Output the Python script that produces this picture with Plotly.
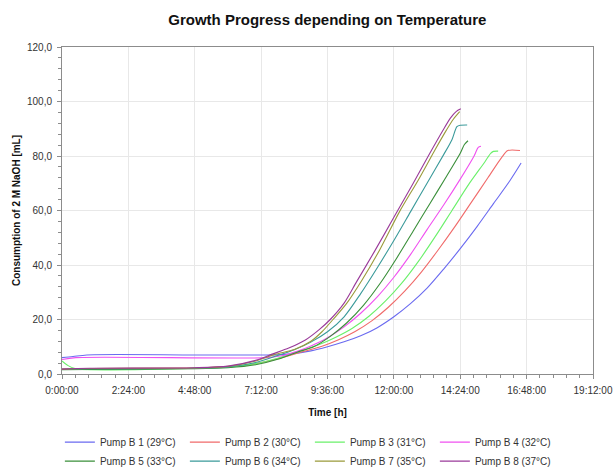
import plotly.graph_objects as go

# ---------------- data ----------------
x_tick_vals = [0, 2.4, 4.8, 7.2, 9.6, 12.0, 14.4, 16.8, 19.2]
x_tick_text = ["0:00:00", "2:24:00", "4:48:00", "7:12:00", "9:36:00",
               "12:00:00", "14:24:00", "16:48:00", "19:12:00"]
y_tick_vals = [0, 20, 40, 60, 80, 100, 120]
y_tick_text = ["0,0", "20,0", "40,0", "60,0", "80,0", "100,0", "120,0"]

series_names = ["Pump B 1 (29°C)", "Pump B 2 (30°C)", "Pump B 3 (31°C)", "Pump B 4 (32°C)",
                "Pump B 5 (33°C)", "Pump B 6 (34°C)", "Pump B 7 (35°C)", "Pump B 8 (37°C)"]
series_colors = ["#6a6af0", "#f06a6a", "#6af06a", "#f050f0",
                 "#3a8f3a", "#3a9a9a", "#9a9a3a", "#9a3a9a"]

# time [h] and consumption [mL] per pump
t_b1 = [0, 0.4, 0.9, 4.8, 7.5, 8.3, 9.0, 9.6, 10.2, 10.8, 11.4, 12.0, 12.6, 13.2, 13.8, 14.4, 15.0, 15.6, 16.2, 16.6]
v_b1 = [6.0, 6.4, 7.0, 7.0, 7.0, 7.4, 8.5, 10.0, 11.8, 14.0, 17.0, 21.0, 25.8, 31.5, 38.5, 46.0, 54.0, 62.5, 71.0, 77.4]

t_b2 = [0, 1, 4.8, 6.0, 7.0, 7.8, 8.6, 9.4, 10.0, 10.6, 11.2, 11.8, 12.4, 13.0, 13.6, 14.2, 14.8, 15.4, 15.9, 16.12, 16.56]
v_b2 = [1.8, 2.0, 2.2, 2.6, 3.8, 5.6, 7.9, 10.2, 12.6, 15.6, 19.5, 24.5, 30.5, 37.5, 45.5, 54.0, 63.0, 72.0, 79.5, 82.0, 82.0]

t_b3 = [0, 0.2, 0.5, 4.8, 6.0, 7.0, 7.8, 8.6, 9.3, 9.9, 10.5, 11.1, 11.7, 12.3, 12.9, 13.5, 14.1, 14.7, 15.3, 15.5, 15.6, 15.77]
v_b3 = [4.8, 3.2, 1.9, 2.1, 2.5, 3.8, 5.8, 8.4, 10.8, 13.5, 16.8, 21.2, 26.8, 33.5, 41.5, 50.5, 60.0, 69.5, 78.0, 81.0, 81.7, 81.8]

t_b4 = [0, 0.5, 7.4, 8.0, 8.5, 9.0, 9.6, 10.2, 10.8, 11.4, 12.0, 12.6, 13.2, 13.8, 14.4, 14.9, 15.05, 15.15]
v_b4 = [5.3, 6.0, 6.0, 6.8, 8.3, 10.3, 13.3, 17.3, 22.3, 28.3, 35.5, 43.8, 53.0, 62.0, 71.5, 80.0, 83.2, 83.6]

t_b5 = [0, 1, 4.8, 6.0, 7.0, 7.8, 8.5, 9.1, 9.7, 10.3, 10.9, 11.5, 12.1, 12.7, 13.3, 13.9, 14.4, 14.55, 14.68]
v_b5 = [1.6, 1.7, 1.9, 2.3, 3.4, 5.4, 8.0, 10.0, 13.8, 18.8, 25.2, 33.2, 42.5, 52.5, 62.5, 72.5, 81.0, 84.2, 85.6]

t_b6 = [0, 1, 4.8, 6.0, 7.0, 7.8, 8.4, 9.0, 9.6, 10.2, 10.8, 11.4, 12.0, 12.6, 13.2, 13.8, 14.1, 14.28, 14.4, 14.65]
v_b6 = [1.7, 1.9, 2.1, 2.6, 4.2, 6.8, 8.9, 11.7, 15.5, 21.0, 29.5, 39.0, 49.0, 59.5, 70.0, 80.5, 86.0, 90.8, 91.3, 91.4]

t_b7 = [0, 1, 4.8, 6.0, 7.0, 7.7, 8.4, 9.0, 9.4, 9.8, 10.3, 10.85, 11.5, 12.2, 12.9, 13.5, 13.9, 14.15, 14.38]
v_b7 = [1.7, 2.0, 2.2, 2.8, 4.8, 7.2, 9.0, 12.0, 15.5, 20.0, 26.0, 34.5, 45.8, 59.5, 71.5, 82.5, 89.5, 93.5, 96.3]

t_b8 = [0, 1, 4.8, 6.0, 7.0, 7.6, 8.2, 8.8, 9.3, 9.7, 10.2, 10.66, 11.3, 12.0, 12.7, 13.3, 13.75, 14.05, 14.25, 14.42]
v_b8 = [1.8, 2.1, 2.3, 2.9, 5.0, 7.3, 9.5, 12.5, 16.3, 20.0, 26.0, 34.0, 45.0, 57.5, 70.0, 81.0, 89.0, 94.0, 96.3, 97.3]

series_t = [t_b1, t_b2, t_b3, t_b4, t_b5, t_b6, t_b7, t_b8]
series_v = [v_b1, v_b2, v_b3, v_b4, v_b5, v_b6, v_b7, v_b8]

# ---------------- figure ----------------
FONT = "Liberation Sans, Arial, sans-serif"
fig = go.Figure()
for name, color, t, v in zip(series_names, series_colors, series_t, series_v):
    fig.add_trace(go.Scatter(
        x=t, y=v, mode="lines", name=name,
        line=dict(color=color, width=1.1, shape="spline", smoothing=0.8),
    ))

fig.update_layout(
    width=613, height=467,
    paper_bgcolor="white", plot_bgcolor="white",
    margin=dict(l=62, r=20, t=47, b=93, autoexpand=False),
    font=dict(family=FONT, size=10, color="#333333"),
    title=dict(text="<b>Growth Progress depending on Temperature</b>",
               x=0.534, xanchor="center", y=0.957, yanchor="middle",
               font=dict(family=FONT, size=15, color="#111111")),
    showlegend=True,
    legend=dict(orientation="h", x=-0.004, xanchor="left", y=-0.164, yanchor="top",
                entrywidth=80, entrywidthmode="pixels",
                font=dict(family=FONT, size=10, color="#333333"),
                tracegroupgap=0, itemwidth=30),
)

fig.update_xaxes(
    range=[0, 19.2], tickmode="array", tickvals=x_tick_vals, ticktext=x_tick_text,
    showgrid=True, gridcolor="#e8e8e8", gridwidth=1,
    showline=True, linecolor="#8c8c8c", linewidth=1, mirror=True,
    ticks="outside", ticklen=4, tickcolor="#8c8c8c", ticklabelstandoff=3,
    minor=dict(tickmode="linear", tick0=0, dtick=0.48, ticks="outside",
               ticklen=3, tickcolor="#8c8c8c", showgrid=False),
    zeroline=False,
    title=dict(text="<b>Time [h]</b>", standoff=13,
               font=dict(family=FONT, size=10, color="#111111")),
    tickfont=dict(family=FONT, size=10, color="#333333"),
)
fig.update_yaxes(
    range=[0, 120], tickmode="array", tickvals=y_tick_vals, ticktext=y_tick_text,
    showgrid=True, gridcolor="#e8e8e8", gridwidth=1,
    showline=True, linecolor="#8c8c8c", linewidth=1, mirror=True,
    ticks="outside", ticklen=4, tickcolor="#8c8c8c", ticklabelstandoff=3,
    minor=dict(tickmode="linear", tick0=0, dtick=4, ticks="outside",
               ticklen=3, tickcolor="#8c8c8c", showgrid=False),
    zeroline=False,
    title=dict(text="<b>Consumption of 2 M NaOH [mL]</b>", standoff=4,
               font=dict(family=FONT, size=10, color="#111111")),
    tickfont=dict(family=FONT, size=10, color="#333333"),
)

fig.write_html("out.html", config={"displayModeBar": False},
               post_script="document.body.style.margin='0';document.body.style.overflow='hidden';")
